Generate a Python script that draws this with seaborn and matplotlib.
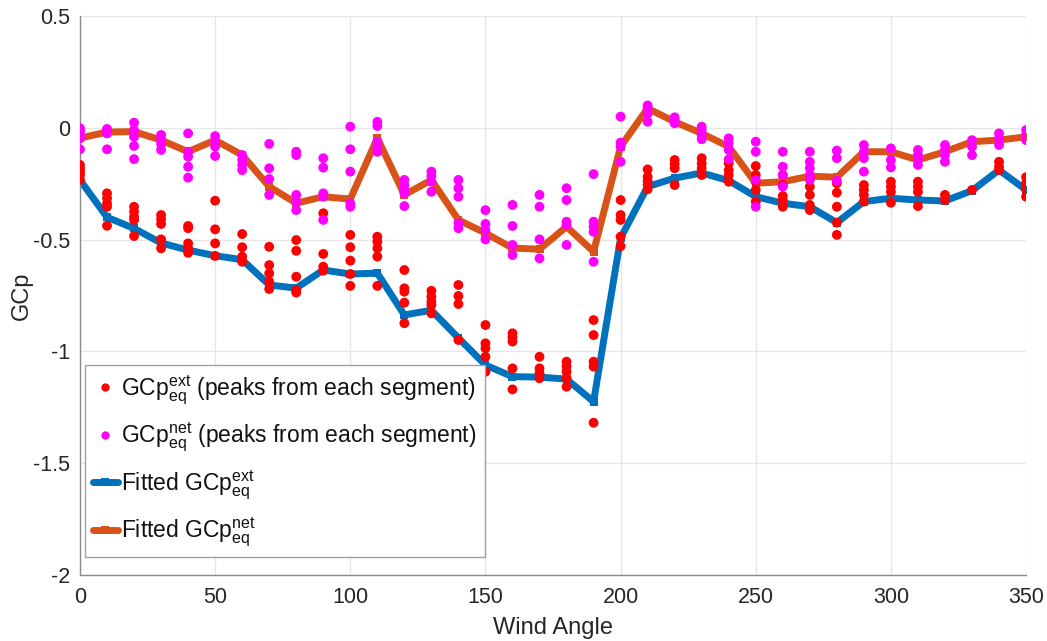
import numpy as np
import pandas as pd
import matplotlib
matplotlib.use("Agg")
import matplotlib.pyplot as plt
import seaborn as sns
from matplotlib.lines import Line2D

# ---------------- data ----------------
angles = list(range(0, 360, 10))

fitted_ext = [-0.233, -0.40, -0.45, -0.515, -0.547, -0.572, -0.59, -0.703, -0.717, -0.636,
              -0.654, -0.65, -0.837, -0.816, -0.94, -1.061, -1.113, -1.115, -1.124, -1.225,
              -0.493, -0.263, -0.225, -0.202, -0.236, -0.308, -0.337, -0.353, -0.424, -0.33,
              -0.315, -0.323, -0.327, -0.281, -0.189, -0.278]

fitted_net = [-0.046, -0.019, -0.017, -0.055, -0.107, -0.055, -0.122, -0.263, -0.337, -0.308,
              -0.319, -0.046, -0.30, -0.233, -0.412, -0.471, -0.538, -0.543, -0.442, -0.554,
              -0.084, 0.087, 0.027, -0.025, -0.084, -0.248, -0.241, -0.216, -0.221, -0.107,
              -0.107, -0.144, -0.107, -0.062, -0.055, -0.04]

ext_peaks = [
    [-0.166, -0.181, -0.196, -0.211, -0.233],
    [-0.293, -0.315, -0.338, -0.353, -0.438],
    [-0.353, -0.375, -0.398, -0.412, -0.484],
    [-0.39, -0.41, -0.43, -0.499, -0.539],
    [-0.439, -0.449, -0.517, -0.539, -0.559],
    [-0.326, -0.454, -0.517, -0.573],
    [-0.475, -0.534, -0.576, -0.599],
    [-0.532, -0.614, -0.651, -0.688, -0.721],
    [-0.502, -0.55, -0.666, -0.725, -0.737],
    [-0.382, -0.564, -0.621, -0.639],
    [-0.479, -0.534, -0.594, -0.654, -0.707],
    [-0.487, -0.509, -0.539, -0.576, -0.707],
    [-0.636, -0.718, -0.733, -0.782, -0.874],
    [-0.729, -0.755, -0.778, -0.792, -0.83],
    [-0.703, -0.752, -0.788, -0.949],
    [-0.882, -0.964, -0.986, -1.024, -1.091],
    [-0.919, -0.937, -0.956, -1.076, -1.17],
    [-1.024, -1.076, -1.098, -1.12],
    [-1.046, -1.068, -1.091, -1.12, -1.158],
    [-0.86, -0.927, -1.046, -1.068, -1.319],
    [-0.323, -0.39, -0.412, -0.487, -0.529],
    [-0.186, -0.219, -0.237, -0.256, -0.275],
    [-0.144, -0.162, -0.181, -0.256],
    [-0.136, -0.159, -0.181, -0.211],
    [-0.159, -0.189, -0.211, -0.241],
    [-0.171, -0.211, -0.241, -0.278, -0.33],
    [-0.211, -0.256, -0.305, -0.323, -0.353],
    [-0.226, -0.263, -0.30, -0.345, -0.368],
    [-0.248, -0.29, -0.353, -0.424, -0.479],
    [-0.256, -0.278, -0.30, -0.33],
    [-0.241, -0.263, -0.286, -0.335],
    [-0.241, -0.263, -0.286, -0.35],
    [-0.30, -0.323],
    [-0.278],
    [-0.152, -0.174, -0.189],
    [-0.221, -0.248, -0.275, -0.308],
]

net_peaks = [
    [-0.002, -0.017, -0.032, -0.047, -0.096],
    [-0.005, -0.01, -0.025, -0.096],
    [0.023, -0.01, -0.04, -0.081, -0.14],
    [-0.032, -0.051, -0.072, -0.099],
    [-0.025, -0.107, -0.129, -0.174, -0.223],
    [-0.037, -0.062, -0.084, -0.126],
    [-0.122, -0.144, -0.166, -0.189],
    [-0.072, -0.181, -0.229, -0.30],
    [-0.107, -0.122, -0.30, -0.33, -0.368],
    [-0.136, -0.178, -0.293, -0.308, -0.412],
    [0.005, -0.096, -0.196, -0.338, -0.353],
    [0.027, 0.008, -0.062, -0.084, -0.107],
    [-0.233, -0.256, -0.278, -0.293, -0.35],
    [-0.196, -0.216, -0.241, -0.286],
    [-0.233, -0.27, -0.308, -0.427, -0.449],
    [-0.368, -0.43, -0.457, -0.499],
    [-0.345, -0.439, -0.524, -0.569],
    [-0.30, -0.353, -0.499, -0.584],
    [-0.27, -0.323, -0.42, -0.435, -0.524],
    [-0.207, -0.42, -0.442, -0.465, -0.599],
    [0.05, -0.066, -0.084, -0.152],
    [0.10, 0.087, 0.064, 0.027],
    [0.047, 0.035, 0.02],
    [0.005, -0.01, -0.032, -0.051],
    [-0.047, -0.069, -0.099, -0.141],
    [-0.062, -0.107, -0.233, -0.353],
    [-0.107, -0.174, -0.211, -0.263],
    [-0.107, -0.152, -0.181, -0.211, -0.233],
    [-0.102, -0.136, -0.237],
    [-0.077, -0.107, -0.136, -0.196],
    [-0.092, -0.144, -0.177],
    [-0.099, -0.122, -0.144, -0.166],
    [-0.077, -0.099, -0.122, -0.152],
    [-0.055, -0.084, -0.122],
    [-0.025, -0.047, -0.077],
    [-0.01, -0.032, -0.055],
]

x_ticks = [0, 50, 100, 150, 200, 250, 300, 350]
y_ticks = [-2, -1.5, -1, -0.5, 0, 0.5]
y_tick_labels = ["-2", "-1.5", "-1", "-0.5", "0", "0.5"]

# ---------------- build tables ----------------
ext_df = pd.DataFrame([(a, v) for a, vals in zip(angles, ext_peaks) for v in vals],
                      columns=["angle", "value"])
net_df = pd.DataFrame([(a, v) for a, vals in zip(angles, net_peaks) for v in vals],
                      columns=["angle", "value"])
fit_df = pd.DataFrame({"angle": angles, "ext": fitted_ext, "net": fitted_net})

# ---------------- style ----------------
sns.set_theme(style="whitegrid")
plt.rcParams["font.family"] = ["Liberation Sans", "DejaVu Sans"]
plt.rcParams["mathtext.fontset"] = "custom"
plt.rcParams["mathtext.rm"] = "Liberation Sans"
plt.rcParams["mathtext.it"] = "Liberation Sans:italic"

fig = plt.figure(figsize=(10.47, 6.41), dpi=100)
ax = fig.add_axes([0.0764, 0.103, 0.9036, 0.872])

blue = "#0072BD"
orange = "#D95319"

sns.lineplot(data=fit_df, x="angle", y="ext", ax=ax, color=blue, linewidth=5,
             marker="s", markersize=6, markeredgewidth=0, zorder=2)
sns.lineplot(data=fit_df, x="angle", y="net", ax=ax, color=orange, linewidth=5,
             marker="s", markersize=6, markeredgewidth=0, zorder=2)
sns.scatterplot(data=ext_df, x="angle", y="value", ax=ax, color="#FF0000", s=50,
                edgecolor="none", zorder=3)
sns.scatterplot(data=net_df, x="angle", y="value", ax=ax, color="#FF00FF", s=50,
                edgecolor="none", zorder=3)

ax.set_xlim(0, 350)
ax.set_ylim(-2, 0.5)
ax.set_xticks(x_ticks)
ax.set_yticks(y_ticks)
ax.set_yticklabels(y_tick_labels)
ax.set_facecolor("white")
ax.grid(True, color="#E6E6E6", linewidth=1.0)
ax.set_axisbelow(True)
for side in ["top", "right"]:
    ax.spines[side].set_visible(False)
for side in ["left", "bottom"]:
    ax.spines[side].set_color("#8C8C8C")
    ax.spines[side].set_linewidth(1.0)
ax.tick_params(axis="both", direction="in", length=5, width=1, color="#8C8C8C",
               labelsize=15.5, labelcolor="#262626")
ax.tick_params(axis="x", pad=9)
ax.tick_params(axis="y", pad=7)
ax.set_xlabel("Wind Angle", fontsize=17, color="#262626", labelpad=6)
ax.set_ylabel("GCp", fontsize=17, color="#262626", labelpad=0)

handles = [
    Line2D([], [], linestyle="none", marker="o", markersize=6, color="#FF0000", markeredgewidth=0),
    Line2D([], [], linestyle="none", marker="o", markersize=6, color="#FF00FF", markeredgewidth=0),
    Line2D([], [], color=blue, linewidth=5, marker="s", markersize=6, markeredgewidth=0),
    Line2D([], [], color=orange, linewidth=5, marker="s", markersize=6, markeredgewidth=0),
]
labels = [
    r"GCp$_{\mathrm{eq}}^{\mathrm{ext}}$ (peaks from each segment)",
    r"GCp$_{\mathrm{eq}}^{\mathrm{net}}$ (peaks from each segment)",
    r"Fitted GCp$_{\mathrm{eq}}^{\mathrm{ext}}$",
    r"Fitted GCp$_{\mathrm{eq}}^{\mathrm{net}}$",
]
leg = ax.legend(handles, labels, loc="lower left", bbox_to_anchor=(0.005, 0.032),
                fontsize=16.5, frameon=True, fancybox=False, framealpha=1,
                edgecolor="#A0A0A0", handlelength=1.1, handletextpad=0.15,
                labelspacing=0.62, borderpad=0.35, borderaxespad=0.0)
leg.get_frame().set_linewidth(1.0)
for t in leg.get_texts():
    t.set_color("#111111")

fig.savefig("out.png", dpi=100, facecolor="white")
